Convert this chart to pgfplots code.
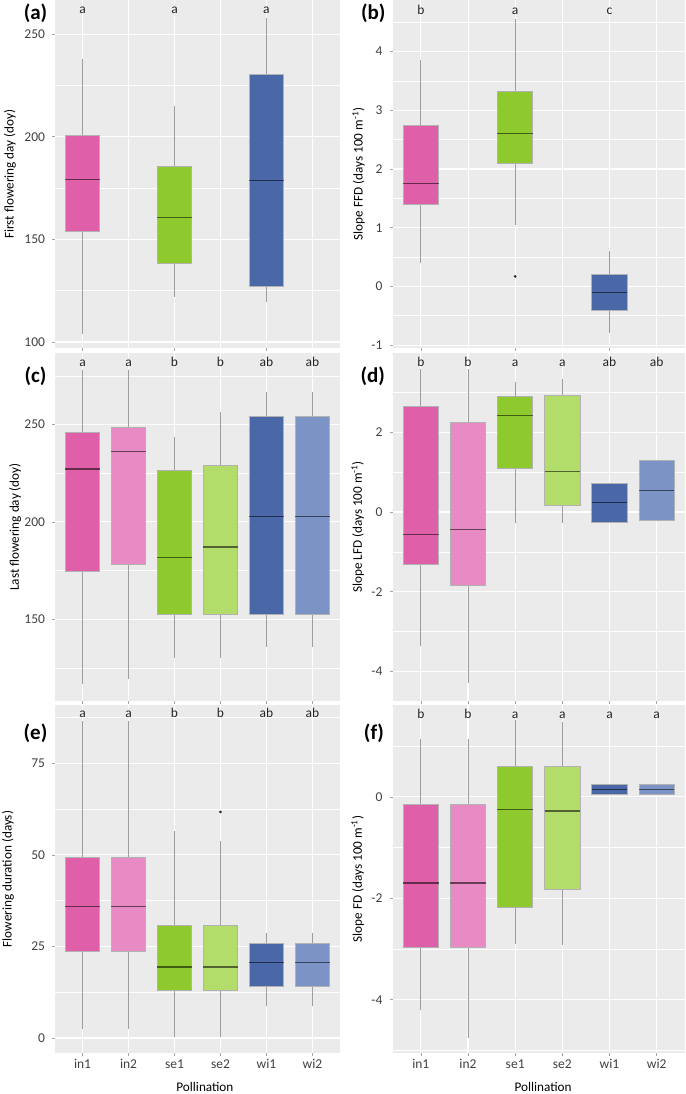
\documentclass[border=0pt]{standalone}
\usepackage{fontspec}
\setmainfont{Carlito}
\usepackage{pgfplots}
\pgfplotsset{compat=1.18}
\usepgfplotslibrary{statistics}
\definecolor{cA}{HTML}{DF5FA9}
\definecolor{cB}{HTML}{E88AC3}
\definecolor{cC}{HTML}{8ECA2E}
\definecolor{cD}{HTML}{B2DD6B}
\definecolor{cE}{HTML}{4A67A7}
\definecolor{cF}{HTML}{7C93C5}
\definecolor{bgg}{HTML}{EBEBEB}
\tikzset{lett/.style={anchor=base, font=\fontsize{13.5}{15}\selectfont, text=black!85}}
\pgfplotsset{
  panel/.style={
    scale only axis, height=348pt,
    xmin=0.4, xmax=6.6,
    axis background/.style={fill=bgg},
    axis line style={draw=none},
    tick align=outside, tick pos=left,
    major tick length=3pt, minor tick length=0pt,
    tick style={black!35, line width=0.6pt},
    grid=both,
    major grid style={white, line width=1.1pt},
    minor grid style={white, line width=0.5pt},
    tick label style={font=\fontsize{13.5}{15}\selectfont, text=black!75},
    yticklabel style={xshift=-3.5pt},
    /pgf/number format/assume math mode=true,
    label style={font=\fontsize{13.2}{15}\selectfont},
    xtick={1,...,6}, xticklabels={},
    boxplot/draw direction=y,
    boxplot/every whisker/.style={draw=black!38, line width=0.8pt},
    boxplot/every median/.style={draw=black, draw opacity=0.55, line width=1.2pt},
    boxplot/whisker extend=0,
    boxplot/box extend=0.75,
  },
}
\newcommand\bx[7]{\addplot[boxplot prepared={draw position=#1, lower whisker=#2, lower quartile=#3, median=#4, upper quartile=#5, upper whisker=#6}, fill=#7, draw=black!30, line width=0.8pt] coordinates {};}
\newcommand\bxo[8]{\addplot[boxplot prepared={draw position=#1, lower whisker=#2, lower quartile=#3, median=#4, upper quartile=#5, upper whisker=#6}, fill=#7, draw=black!30, line width=0.8pt, mark=*, mark size=0.9pt, mark options={draw=black!85, fill=black!85}] coordinates {(#1,#8)};}
\begin{document}
\begin{tikzpicture}
\useasboundingbox (0,0) rectangle (685pt,1094pt);
% (a)
\begin{axis}[panel, at={(55pt,746pt)}, anchor=south west, width=285pt,
  ymin=97.1, ymax=266.6, ytick={100,150,200,250}, minor ytick={125,175,225},
  xtick={1,3,5}, minor xtick={2,4,6},
  ylabel={First flowering day (doy)}, ylabel style={at={(axis description cs:-0.158,0.5)}, anchor=center}]
\bx{1}{104.1}{153.7}{179.2}{200.5}{238}{cA}
\bx{3}{121.7}{138.3}{160.7}{185.7}{214.9}{cC}
\bx{5}{119.5}{127.3}{178.5}{230.5}{257.6}{cE}
\node[lett] at (axis cs:1,259.8) {a};
\node[lett] at (axis cs:3,259.8) {a};
\node[lett] at (axis cs:5,259.8) {a};
\end{axis}
% (b)
\begin{axis}[panel, at={(392.5pt,746pt)}, anchor=south west, width=292.5pt,
  ymin=-1.05, ymax=4.88, ytick={-1,0,1,2,3,4}, minor ytick={-0.5,0.5,1.5,2.5,3.5,4.5},
  xtick={1,3,5}, minor xtick={2,4,6},
  ylabel={Slope FFD (days 100 m\textsuperscript{-1})}, ylabel style={at={(axis description cs:-0.116,0.5)}, anchor=center}]
\bx{1}{0.40}{1.39}{1.755}{2.74}{3.86}{cA}
\bxo{3}{1.05}{2.09}{2.61}{3.32}{4.56}{cC}{0.17}
\bx{5}{-0.80}{-0.41}{-0.10}{0.20}{0.60}{cE}
\node[lett] at (axis cs:1,4.64) {b};
\node[lett] at (axis cs:3,4.64) {a};
\node[lett] at (axis cs:5,4.64) {c};
\end{axis}
% (c)
\begin{axis}[panel, at={(55pt,393pt)}, anchor=south west, width=285pt,
  ymin=108.1, ymax=286.7, ytick={150,200,250}, minor ytick={125,175,225,275},
  ylabel={Last flowering day (doy)}, ylabel style={at={(axis description cs:-0.14,0.5)}, anchor=center}]
\bx{1}{116.7}{174.6}{227.2}{245.9}{278.2}{cA}
\bx{2}{119.4}{178.2}{236.3}{248.5}{278.2}{cB}
\bx{3}{130.3}{152.7}{181.8}{226.6}{243.7}{cC}
\bx{4}{130.3}{152.7}{187.1}{229.1}{256.3}{cD}
\bx{5}{136.0}{152.7}{202.6}{254.1}{266.6}{cE}
\bx{6}{136.0}{152.7}{202.6}{254.1}{266.6}{cF}
\node[lett] at (axis cs:1,279.6) {a};
\node[lett] at (axis cs:2,279.6) {a};
\node[lett] at (axis cs:3,279.6) {b};
\node[lett] at (axis cs:4,279.6) {b};
\node[lett] at (axis cs:5,279.6) {ab};
\node[lett] at (axis cs:6,279.6) {ab};
\end{axis}
% (d)
\begin{axis}[panel, at={(392.5pt,393pt)}, anchor=south west, width=292.5pt,
  ymin=-4.74, ymax=3.99, ytick={-4,-2,0,2}, minor ytick={-3,-1,1,3},
  ylabel={Slope LFD (days 100 m\textsuperscript{-1})}, ylabel style={at={(axis description cs:-0.119,0.5)}, anchor=center}]
\bx{1}{-3.37}{-1.32}{-0.57}{2.66}{3.60}{cA}
\bx{2}{-4.29}{-1.85}{-0.43}{2.25}{3.60}{cB}
\bx{3}{-0.27}{1.09}{2.42}{2.91}{3.27}{cC}
\bx{4}{-0.27}{0.17}{1.02}{2.92}{3.35}{cD}
\bx{5}{-0.27}{-0.27}{0.24}{0.73}{0.73}{cE}
\bx{6}{-0.22}{-0.22}{0.54}{1.30}{1.30}{cF}
\node[lett] at (axis cs:1,3.64) {b};
\node[lett] at (axis cs:2,3.64) {b};
\node[lett] at (axis cs:3,3.64) {a};
\node[lett] at (axis cs:4,3.64) {a};
\node[lett] at (axis cs:5,3.64) {ab};
\node[lett] at (axis cs:6,3.64) {ab};
\end{axis}
% (e)
\begin{axis}[panel, at={(55pt,41pt)}, anchor=south west, width=285pt,
  ymin=-4.1, ymax=90.9, ytick={0,25,50,75}, minor ytick={12.5,37.5,62.5,87.5},
  xticklabels={in1,in2,se1,se2,wi1,wi2},
  xlabel={Pollination}, xlabel style={at={(axis description cs:0.526,0)}, anchor=center, yshift=-34pt},
  ylabel={Flowering duration (days)}, ylabel style={at={(axis description cs:-0.165,0.5)}, anchor=center}]
\bx{1}{2.4}{23.7}{35.8}{49.3}{86.6}{cA}
\bx{2}{2.4}{23.7}{35.8}{49.3}{86.6}{cB}
\bx{3}{0.3}{12.9}{19.4}{30.8}{56.6}{cC}
\bxo{4}{0.3}{12.9}{19.4}{30.8}{53.7}{cD}{61.7}
\bx{5}{8.7}{14.1}{20.6}{25.8}{28.7}{cE}
\bx{6}{8.7}{14.1}{20.6}{25.8}{28.7}{cF}
\node[lett] at (axis cs:1,87.6) {a};
\node[lett] at (axis cs:2,87.6) {a};
\node[lett] at (axis cs:3,87.6) {b};
\node[lett] at (axis cs:4,87.6) {b};
\node[lett] at (axis cs:5,87.6) {ab};
\node[lett] at (axis cs:6,87.6) {ab};
\end{axis}
% (f)
\begin{axis}[panel, at={(392.5pt,41pt)}, anchor=south west, width=292.5pt,
  ymin=-5.05, ymax=1.81, ytick={-4,-2,0}, minor ytick={-5,-3,-1,1},
  xticklabels={in1,in2,se1,se2,wi1,wi2},
  xlabel={Pollination}, xlabel style={at={(axis description cs:0.515,0)}, anchor=center, yshift=-34pt},
  ylabel={Slope FD (days 100 m\textsuperscript{-1})}, ylabel style={at={(axis description cs:-0.119,0.5)}, anchor=center}]
\bx{1}{-4.21}{-2.97}{-1.70}{-0.144}{1.14}{cA}
\bx{2}{-4.75}{-2.97}{-1.70}{-0.15}{1.14}{cB}
\bx{3}{-2.91}{-2.18}{-0.25}{0.60}{1.51}{cC}
\bx{4}{-2.93}{-1.82}{-0.28}{0.60}{1.47}{cD}
\bx{5}{0.04}{0.04}{0.15}{0.24}{0.24}{cE}
\bx{6}{0.04}{0.04}{0.15}{0.24}{0.24}{cF}
\node[lett] at (axis cs:1,1.54) {b};
\node[lett] at (axis cs:2,1.54) {b};
\node[lett] at (axis cs:3,1.54) {a};
\node[lett] at (axis cs:4,1.54) {a};
\node[lett] at (axis cs:5,1.54) {a};
\node[lett] at (axis cs:6,1.54) {a};
\end{axis}
% panel labels
\begin{scope}[every node/.style={font=\bfseries\fontsize{21}{23}\selectfont, anchor=center}]
\node at (35.5pt,1081pt) {(a)};
\node at (373.3pt,1081pt) {(b)};
\node at (35.5pt,717.3pt) {(c)};
\node at (372.8pt,717.3pt) {(d)};
\node at (35.5pt,360.7pt) {(e)};
\node at (374pt,360.7pt) {(f)};
\end{scope}
\end{tikzpicture}
\end{document}
